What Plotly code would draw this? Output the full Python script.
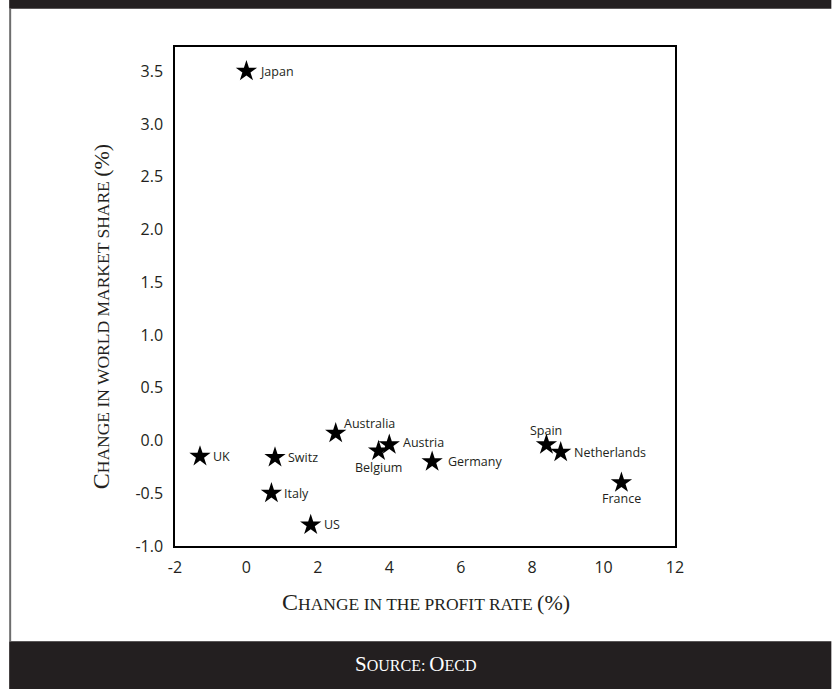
import plotly.graph_objects as go

# Country data: change in profit rate (%) vs change in world market share (%)
countries = ["Japan", "UK", "Switz", "Italy", "US", "Australia", "Belgium",
             "Austria", "Germany", "Spain", "Netherlands", "France"]
profit_change = [0.0, -1.3, 0.8, 0.7, 1.8, 2.5, 3.7, 4.0, 5.2, 8.4, 8.8, 10.5]
share_change = [3.5, -0.15, -0.16, -0.5, -0.8, 0.07, -0.1, -0.04, -0.2, -0.04, -0.11, -0.4]

# label placement around each star: (xanchor, xshift, yshift)
label_place = {
    "Japan": ("left", 12, 0), "UK": ("left", 11, 0), "Switz": ("left", 11, 0),
    "Italy": ("left", 11, 0), "US": ("left", 11, 0), "Australia": ("left", 6, 10),
    "Belgium": ("center", 0, -16), "Austria": ("left", 12, 2), "Germany": ("left", 14, 0),
    "Spain": ("center", 0, 14), "Netherlands": ("left", 11, 0), "France": ("center", 0, -16),
}

x_ticks = [-2, 0, 2, 4, 6, 8, 10, 12]
y_ticks = [-1.0, -0.5, 0.0, 0.5, 1.0, 1.5, 2.0, 2.5, 3.0, 3.5]

W_FIG, H_FIG = 832, 689
L, R, T, B = 175, 675.5, 47, 545.7
PW, PH = R - L, B - T
DARK = "#231f20"
SERIF = "Liberation Serif"
SANS = "Open Sans"


def px(x):
    return (x - L) / PW


def py(y):
    return (B - y) / PH


def small_caps(text, big, small):
    out = []
    for word in text.split(" "):
        if word.startswith("("):
            # parenthesised unit keeps full-size brackets
            out.append(f"<span style='font-size:{big - 2}px'>{word}</span>")
        elif word and word[0].isupper() and word[0].isalpha():
            out.append(f"<span style='font-size:{big}px'>{word[0]}</span>"
                       f"<span style='font-size:{small}px'>{word[1:].upper()}</span>")
        else:
            out.append(f"<span style='font-size:{small}px'>{word.upper()}</span>")
    return " ".join(out)


fig = go.Figure()
fig.add_trace(go.Scatter(
    x=profit_change, y=share_change, mode="markers",
    marker=dict(symbol="star", size=16, color="black", line=dict(width=0)),
    cliponaxis=False, showlegend=False,
))

shapes = [
    # top band
    dict(type="rect", xref="paper", yref="paper", x0=px(9), x1=px(W_FIG), y0=py(8.7), y1=py(0),
         fillcolor=DARK, line=dict(width=0), layer="below"),
    # bottom band
    dict(type="rect", xref="paper", yref="paper", x0=px(9), x1=px(W_FIG), y0=py(H_FIG), y1=py(641),
         fillcolor=DARK, line=dict(width=0), layer="below"),
    # left border rule
    dict(type="line", xref="paper", yref="paper", x0=px(10), x1=px(10), y0=py(641), y1=py(8.7),
         line=dict(color="#6d6d6d", width=2)),
]

annotations = [
    dict(text=small_caps("Change in the profit rate (%)", 24, 17.5), xref="paper", yref="paper",
         x=px(426.5), y=py(602), showarrow=False,
         font=dict(family=SERIF, size=17.5, color="#231f20"),
         xanchor="center", yanchor="middle"),
    dict(text=small_caps("Change in world market share (%)", 24, 17.5), xref="paper", yref="paper",
         x=px(101), y=py(317), showarrow=False, textangle=-90,
         font=dict(family=SERIF, size=17.5, color="#231f20"), xanchor="center", yanchor="middle"),
    dict(text=small_caps("Source: OECD", 21, 16), xref="paper", yref="paper",
         x=px(416), y=py(664), showarrow=False, font=dict(family=SERIF, size=16, color="white"),
         xanchor="center", yanchor="middle"),
]

for name, xv, yv in zip(countries, profit_change, share_change):
    xa, xs, ys = label_place[name]
    annotations.append(dict(
        text=name, x=xv, y=yv, xref="x", yref="y", showarrow=False,
        xanchor=xa, yanchor="middle", xshift=xs, yshift=ys,
        font=dict(family=SANS, size=12.5, color="#231f20"),
    ))

fig.update_layout(
    width=W_FIG, height=H_FIG,
    margin=dict(l=L, r=W_FIG - R, t=T, b=H_FIG - B, pad=0),
    paper_bgcolor="white", plot_bgcolor="white",
    shapes=shapes, annotations=annotations,
    xaxis=dict(range=[-2, 12], tickvals=x_ticks, ticktext=[str(v) for v in x_ticks],
               showgrid=False, zeroline=False, showline=True, mirror=True,
               linecolor="black", linewidth=1.5, ticks="", ticklabelstandoff=6,
               tickfont=dict(family=SANS, size=16, color="#231f20")),
    yaxis=dict(range=[-1.0, 3.73], tickvals=y_ticks, ticktext=[f"{v:.1f}" for v in y_ticks],
               showgrid=False, zeroline=False, showline=True, mirror=True,
               linecolor="black", linewidth=1.5, ticks="", ticklabelstandoff=7,
               tickfont=dict(family=SANS, size=16, color="#231f20")),
)

fig.write_html("out.html")
